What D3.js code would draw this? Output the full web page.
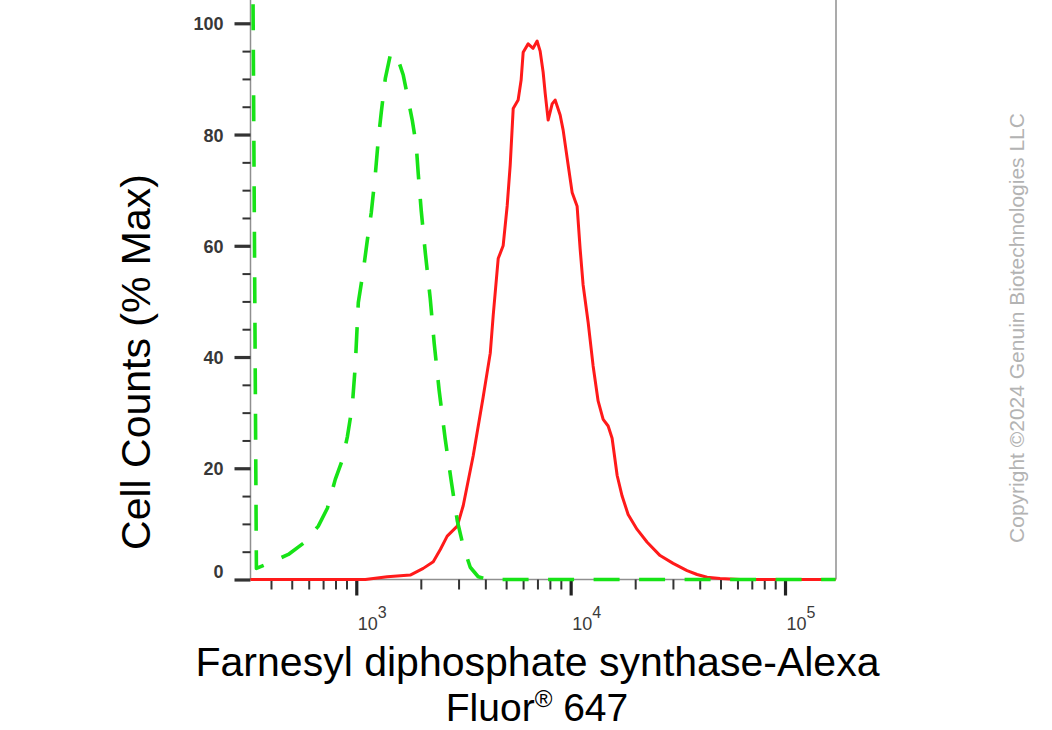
<!DOCTYPE html>
<html><head><meta charset="utf-8">
<script src="https://cdn.jsdelivr.net/npm/d3@7"></script>
<style>html,body{margin:0;padding:0;background:#fff;} svg{display:block;}</style>
</head><body>
<svg id="c" width="1052" height="730"></svg>
<script>
// ---- data ----
const yTicks = [0, 20, 40, 60, 80, 100];
const yMinorTicks = [5,10,15,25,30,35,45,50,55,65,70,75,85,90,95];
const xMajorTicks = [1e3, 1e4, 1e5];
const xTickBase = "10";
const xTickExponents = ["3", "4", "5"];
const xMinorTicks = [400,500,600,700,800,900,2000,3000,4000,5000,6000,7000,8000,9000,
                     20000,30000,40000,50000,60000,70000,80000,90000];

// isotype control (green, dashed)
const isotypeX = [329,342,389,482,566,665,733,798,861,908,958,989,1022,1078,1125,1175,1226,1266,1308,1366,1441,1504,1570,1656,1729,1824,1904,1945,2009,2098,2213,2310,2437,2600,2773,2958,3154,3401,3706,4125,172000];
const isotypeY = [111.6,2.0,2.9,4.5,6.5,9.6,12.8,18.0,21.5,25.6,31.2,38.4,49.8,55.5,60.9,66.0,72.7,79.0,84.0,90.1,94.3,94.8,93.4,90.7,87.1,82.6,78.1,73.0,66.3,58.8,50.5,42.4,33.9,25.2,17.7,10.6,6.0,2.2,0.5,0,0];

// stained sample (red, solid)
const sampleX = [321,1102,1395,1785,2053,2286,2466,2655,2958,3155,3509,3908,4217,4355,4592,4842,5058,5224,5396,5689,5875,6006,6334,6679,6977,7206,7442,7608,7853,8200,8465,8933,9226,9728,10160,10720,11070,11430,12070,12730,13430,14180,14960,15610,16480,17380,18540,20420,22750,26140,30060,34930,38900,43290,49770,61660,172000];
const sampleY = [0,0,0.5,0.8,2.0,3.2,5.4,7.8,9.6,13.3,22.2,32.8,40.7,47.6,57.7,60.0,67.2,74.5,84.7,86.2,89.8,94.8,96.3,95.5,96.8,95.0,91.2,87.4,82.6,85.5,86.2,83.5,80.8,74.6,69.6,67.1,59.5,53.0,46.2,38.4,32.1,28.8,27.6,25.4,18.7,15.0,11.7,9.0,6.7,4.3,2.9,1.6,0.9,0.4,0.2,0,0];

const yTitle = "Cell Counts (% Max)";
const xTitle1 = "Farnesyl diphosphate synthase-Alexa";
const xTitle2a = "Fluor", xTitle2sup = "\u00AE", xTitle2b = " 647";
const copyright = "Copyright \u00A92024 Genuin Biotechnologies LLC";

// ---- layout ----
const FONT = "'Liberation Sans', Arial, Helvetica, sans-serif";
const X0 = 250.5, X1 = 836, Y0 = 579.5, Y100 = 23.3;
const svg = d3.select("#c");

const x = d3.scaleLog().domain([321, 172000]).range([X0, 835.5]);
const y = d3.scaleLinear().domain([0, 100]).range([Y0, Y100]);

// axis frame lines
const frame = svg.append("g").attr("stroke", "#8f8f8f").attr("stroke-width", 1.5);
frame.append("line").attr("x1", X0).attr("x2", X0).attr("y1", 0).attr("y2", Y0);
frame.append("line").attr("x1", X0).attr("x2", X1).attr("y1", Y0).attr("y2", Y0);
frame.append("line").attr("x1", X1).attr("x2", X1).attr("y1", 0).attr("y2", Y0);

// y minor ticks
const gyMin = svg.append("g").attr("transform", `translate(${X0},0)`)
  .call(d3.axisLeft(y).tickValues(yMinorTicks).tickSize(8).tickFormat(""));
gyMin.select(".domain").remove();
gyMin.selectAll("line").attr("stroke", "#333").attr("stroke-width", 2);

// y major ticks + labels
const gy = svg.append("g").attr("transform", `translate(${X0},0)`)
  .call(d3.axisLeft(y).tickValues(yTicks).tickSize(16).tickPadding(11).tickFormat(d => d));
gy.select(".domain").remove();
gy.selectAll("line").attr("stroke", "#333").attr("stroke-width", 3.2);
gy.selectAll("text")
  .attr("font-family", FONT).attr("font-size", 18).attr("font-weight", "bold")
  .attr("fill", "#383838")
  .attr("dy", d => d === 0 ? "-0.1em" : "0.37em");

// x minor ticks
const gxMin = svg.append("g").attr("transform", `translate(0,${Y0})`)
  .call(d3.axisBottom(x).tickValues(xMinorTicks).tickSize(10).tickFormat(""));
gxMin.select(".domain").remove();
gxMin.selectAll("line").attr("stroke", "#333").attr("stroke-width", 2);

// x major ticks
const gx = svg.append("g").attr("transform", `translate(0,${Y0})`)
  .call(d3.axisBottom(x).tickValues(xMajorTicks).tickSize(16).tickFormat(""));
gx.select(".domain").remove();
gx.selectAll("line").attr("stroke", "#222").attr("stroke-width", 3.2);

// x tick labels 10^n
const lab = svg.append("g").selectAll("text").data(xMajorTicks).join("text")
  .attr("x", d => x(d) + 1.5).attr("y", 630)
  .attr("font-family", FONT).attr("fill", "#3a3a3a");
lab.append("tspan").attr("font-size", 18).text(xTickBase);
lab.append("tspan").attr("font-size", 16).attr("dy", -12).text((d, i) => xTickExponents[i]);

// clip
svg.append("clipPath").attr("id", "clip").append("rect")
  .attr("x", X0 - 1).attr("y", 0).attr("width", X1 - X0 + 1).attr("height", Y0 + 3);

const line = d3.line().x(d => x(d[0])).y(d => y(d[1])).curve(d3.curveLinear);
const sample = sampleX.map((v, i) => [v, sampleY[i]]);
const isotype = isotypeX.map((v, i) => [v, isotypeY[i]]);

const plot = svg.append("g").attr("clip-path", "url(#clip)");
plot.append("path").datum(sample).attr("d", line)
  .attr("fill", "none").attr("stroke", "#ff1a1a").attr("stroke-width", 3)
  .attr("stroke-linejoin", "round");
plot.append("path").datum(isotype).attr("d", line)
  .attr("fill", "none").attr("stroke", "#17e317").attr("stroke-width", 3.6)
  .attr("stroke-dasharray", "26,19.5").attr("stroke-linejoin", "round");

// axis titles
svg.append("text").attr("transform", "translate(150,362) rotate(-90)")
  .attr("text-anchor", "middle").attr("font-family", FONT).attr("font-size", 41)
  .attr("fill", "#000").text(yTitle);

svg.append("text").attr("x", 537.5).attr("y", 676).attr("text-anchor", "middle")
  .attr("font-family", FONT).attr("font-size", 40.5).attr("fill", "#000")
  .attr("textLength", 684).attr("lengthAdjust", "spacingAndGlyphs").text(xTitle1);

const t2 = svg.append("text").attr("x", 537).attr("y", 720.5).attr("text-anchor", "middle")
  .attr("font-family", FONT).attr("font-size", 39).attr("fill", "#000");
t2.append("tspan").text(xTitle2a);
t2.append("tspan").attr("font-size", 24).attr("dy", -14).text(xTitle2sup);
t2.append("tspan").attr("dy", 14).text(xTitle2b);

// copyright
svg.append("text").attr("transform", "translate(1024,328) rotate(-90)")
  .attr("text-anchor", "middle").attr("font-family", FONT).attr("font-size", 21)
  .attr("fill", "#b3b3b3")
  .text(copyright);
</script>
</body></html>
